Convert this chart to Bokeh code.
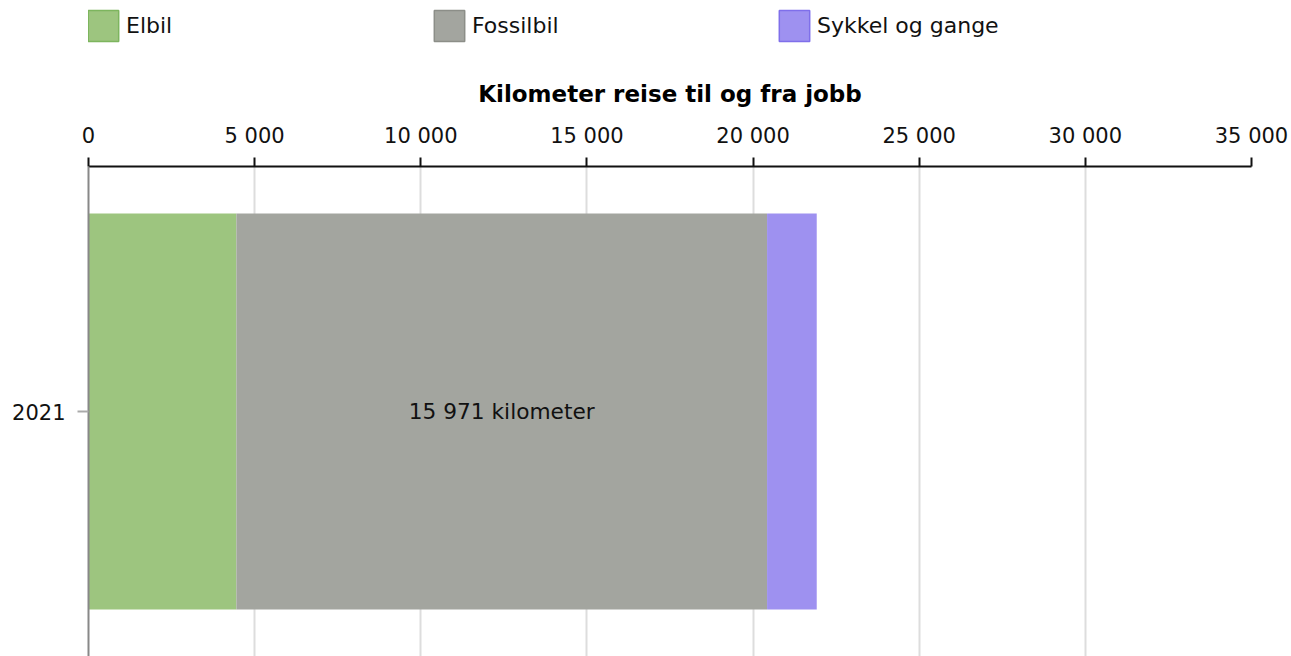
from bokeh.plotting import figure
from bokeh.layouts import column
from bokeh.models import (Range1d, FactorRange, Legend, LegendItem,
                          CustomJSTickFormatter, FixedTicker, ColumnDataSource)
from bokeh.core.properties import value
from bokeh.embed import file_html
from bokeh.resources import INLINE

years = ["2021"]
elbil = [4450]
fossilbil = [15971]
sykkel = [1495]
series = ["Elbil", "Fossilbil", "Sykkel og gange"]
colors = ["#9DC57F", "#A3A59F", "#9E91F0"]
borders = ["#7DB55E", "#8C8E88", "#7F6FEA"]
x_ticks = [0, 5000, 10000, 15000, 20000, 25000, 30000, 35000]
x_title = "Kilometer reise til og fra jobb"
bar_label = ["15 971 kilometer"]

FONT = "DejaVu Sans"
LEG_H = 50

source = ColumnDataSource(dict(year=years, Elbil=elbil, Fossilbil=fossilbil,
                               **{"Sykkel og gange": sykkel}))

# ---- legend strip ----
lf = figure(width=1291, height=LEG_H, output_backend="svg", toolbar_location=None,
            x_range=Range1d(0, 1), y_range=Range1d(0, 1),
            x_axis_type=None, y_axis_type=None,
            min_border_left=0, min_border_right=0, min_border_top=0, min_border_bottom=0)
lf.outline_line_color = None
lf.xgrid.grid_line_color = None
lf.ygrid.grid_line_color = None

legend_x = [-4, 342, 687]
for name, c, bc, lxp in zip(series, colors, borders, legend_x):
    # swatch-only renderer, its single point lies outside the visible range
    dummy = lf.rect(x=[-10], y=[-10], width=0.1, height=0.1, fill_color=c,
                    line_color=bc, line_width=1.5)
    lg = Legend(items=[LegendItem(label=name, renderers=[dummy])],
                location=(lxp, 5), orientation="horizontal",
                glyph_width=38, glyph_height=39, label_standoff=4,
                padding=0, margin=0, border_line_color=None,
                background_fill_alpha=0,
                label_text_font=FONT, label_text_font_size="22px",
                label_text_color="#111111")
    lf.add_layout(lg, "center")

# ---- main chart ----
p = figure(width=1291, height=656 - LEG_H, output_backend="svg", toolbar_location=None,
           y_range=FactorRange(factors=years), x_range=Range1d(0, 35000),
           x_axis_location="above", min_border_left=88, min_border_right=40,
           min_border_top=166 - LEG_H, min_border_bottom=0)
p.outline_line_color = None

rs = p.hbar_stack(series, y="year", height=0.808, color=colors, source=source,
                  line_color=None)

lx = [e + f / 2 for e, f in zip(elbil, fossilbil)]
p.text(x=lx, y=years, text=bar_label, text_align="center", text_baseline="middle",
       text_font=value(FONT), text_font_size="21.7px", text_color="#111111")

xa = p.xaxis[0]
xa.ticker = FixedTicker(ticks=x_ticks)
xa.formatter = CustomJSTickFormatter(code="return tick.toLocaleString('en-US').replace(/,/g, ' ');")
xa.axis_label = x_title
xa.axis_label_text_font = FONT
xa.axis_label_text_font_style = "bold"
xa.axis_label_text_font_size = "23px"
xa.axis_label_text_color = "#000000"
xa.axis_label_standoff = 14
xa.major_label_text_font = FONT
xa.major_label_text_font_size = "21px"
xa.major_label_text_color = "#111111"
xa.major_label_standoff = 10
xa.axis_line_color = "#111111"
xa.axis_line_width = 2
xa.major_tick_line_color = "#111111"
xa.major_tick_line_width = 2
xa.major_tick_out = 9
xa.major_tick_in = 0
xa.minor_tick_line_color = None

ya = p.yaxis[0]
ya.major_label_text_font = FONT
ya.major_label_text_font_size = "21px"
ya.major_label_text_color = "#111111"
ya.axis_line_color = "#888888"
ya.axis_line_width = 2
ya.major_tick_line_color = "#AAAAAA"
ya.major_tick_line_width = 2
ya.major_tick_out = 11
ya.major_tick_in = 0
ya.major_label_standoff = 12

p.xgrid.grid_line_color = "#DDDDDD"
p.xgrid.grid_line_width = 2
p.ygrid.grid_line_color = None

layout = column(lf, p, spacing=0)
open("out.html", "w").write(file_html(layout, INLINE))
